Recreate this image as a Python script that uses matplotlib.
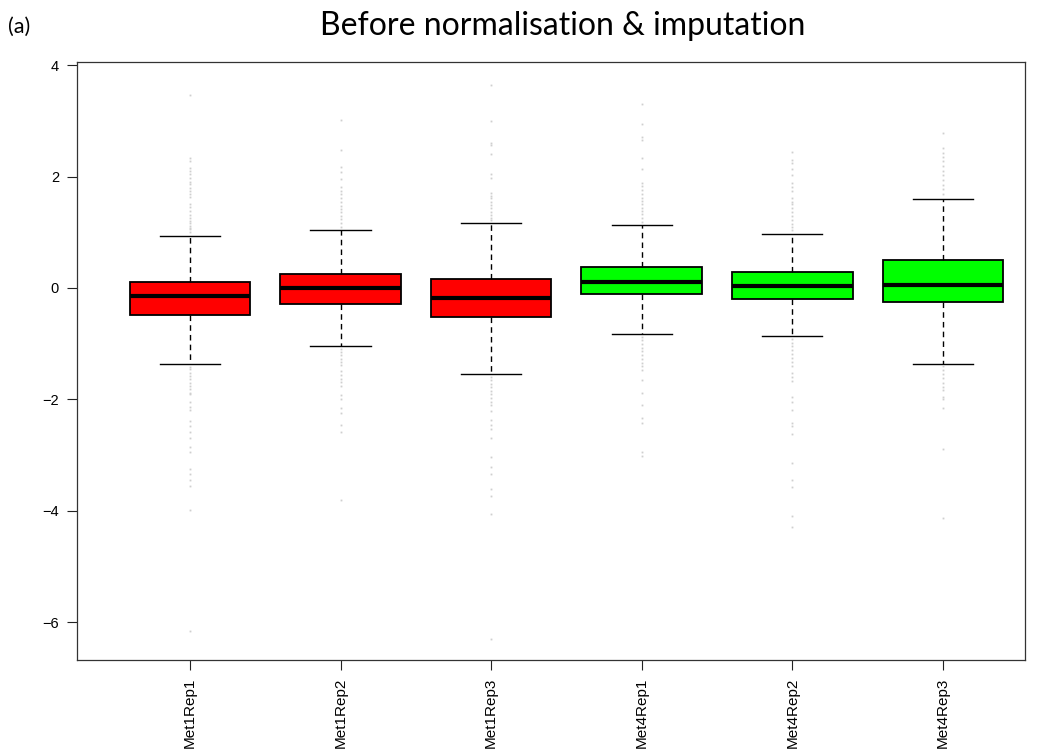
import matplotlib
matplotlib.use("Agg")
import matplotlib.pyplot as plt

# Sample names and summary statistics (log-intensity, before normalisation)
samples = ["Met1Rep1", "Met1Rep2", "Met1Rep3", "Met4Rep1", "Met4Rep2", "Met4Rep3"]
box_colors = ["#FF0000", "#FF0000", "#FF0000", "#00FF00", "#00FF00", "#00FF00"]

medians = [-0.14, 0.00, -0.18, 0.11, 0.04, 0.05]
q1 = [-0.48, -0.28, -0.52, -0.10, -0.19, -0.25]
q3 = [0.11, 0.25, 0.16, 0.38, 0.28, 0.50]
whisker_low = [-1.36, -1.05, -1.54, -0.82, -0.86, -1.37]
whisker_high = [0.93, 1.04, 1.17, 1.13, 0.97, 1.60]

outliers_met1rep1 = [3.47, 2.33, 2.28, 2.16, 2.10, 2.05, 1.98, 1.91, 1.87, 1.80, 1.74,
                     1.69, 1.64, 1.50, 1.45, 1.38, 1.31, 1.25, 1.21, 1.16, 1.12, 1.08,
                     1.05, 1.00,
                     -1.42, -1.46, -1.52, -1.58, -1.63, -1.70, -1.76, -1.82, -1.88,
                     -1.91, -2.05, -2.13, -2.19, -2.39, -2.48, -2.58, -2.69, -2.85,
                     -2.95, -3.25, -3.35, -3.45, -3.56, -3.98, -6.17]
outliers_met1rep2 = [3.02, 2.48, 2.18, 2.08, 1.95, 1.81, 1.75, 1.68, 1.62, 1.55, 1.48,
                     1.42, 1.36, 1.30, 1.24, 1.17, 1.10,
                     -1.10, -1.15, -1.21, -1.27, -1.33, -1.39, -1.50, -1.57, -1.64,
                     -1.69, -1.76, -1.93, -1.99, -2.15, -2.25, -2.47, -2.59, -3.80]
outliers_met1rep3 = [3.65, 2.99, 2.60, 2.57, 2.40, 2.04, 1.97, 1.71, 1.65, 1.61, 1.55,
                     1.49, 1.43, 1.37, 1.31, 1.26, 1.22,
                     -1.60, -1.66, -1.72, -1.78, -1.85, -1.91, -1.98, -2.05, -2.11,
                     -2.21, -2.37, -2.47, -2.54, -2.70, -3.03, -3.22, -3.34, -3.61,
                     -3.74, -4.06, -6.30]
outliers_met4rep1 = [3.30, 2.95, 2.72, 2.65, 2.33, 2.14, 1.89, 1.83, 1.76, 1.69, 1.62,
                     1.56, 1.50, 1.44, 1.38, 1.32, 1.26, 1.18,
                     -0.88, -0.94, -1.00, -1.07, -1.13, -1.20, -1.27, -1.34, -1.40,
                     -1.47, -1.66, -1.89, -2.11, -2.34, -2.43, -2.95, -3.02]
outliers_met4rep2 = [2.45, 2.30, 2.24, 2.14, 2.03, 1.89, 1.82, 1.75, 1.61, 1.55, 1.50,
                     1.43, 1.36, 1.29, 1.22, 1.15, 1.09, 1.04,
                     -0.92, -0.98, -1.05, -1.12, -1.19, -1.26, -1.33, -1.40, -1.52,
                     -1.60, -1.68, -1.95, -2.05, -2.20, -2.42, -2.48, -2.62, -3.15,
                     -3.45, -3.58, -4.10, -4.30]
outliers_met4rep3 = [2.78, 2.52, 2.43, 2.36, 2.28, 2.19, 2.10, 2.03, 1.93, 1.85, 1.77,
                     1.68,
                     -1.41, -1.48, -1.55, -1.62, -1.70, -1.77, -1.83, -1.96, -1.99,
                     -2.15, -2.89, -4.13]
outliers = [outliers_met1rep1, outliers_met1rep2, outliers_met1rep3,
            outliers_met4rep1, outliers_met4rep2, outliers_met4rep3]

y_ticks = [-6, -4, -2, 0, 2, 4]

plt.rcParams["font.family"] = ["Liberation Sans", "DejaVu Sans"]

fig = plt.figure(figsize=(10.41, 7.55), dpi=100)
ax = fig.add_axes([0.074, 0.126, 0.9106, 0.792])

stats = []
for i, name in enumerate(samples):
    stats.append({
        "label": name,
        "med": medians[i],
        "q1": q1[i],
        "q3": q3[i],
        "whislo": whisker_low[i],
        "whishi": whisker_high[i],
        "fliers": outliers[i],
    })

positions = list(range(1, len(samples) + 1))
bp = ax.bxp(
    stats,
    positions=positions,
    widths=0.8,
    patch_artist=True,
    showfliers=True,
    boxprops=dict(edgecolor="black", linewidth=1.3),
    medianprops=dict(color="black", linewidth=3.0, solid_capstyle="butt"),
    whiskerprops=dict(color="black", linewidth=1.0, linestyle=(0, (4, 3))),
    capprops=dict(color="black", linewidth=1.0),
    capwidths=0.4,
    flierprops=dict(marker="s", markersize=1.3, markerfacecolor="#cfcfcf",
                    markeredgecolor="none", linestyle="none"),
)
for patch, c in zip(bp["boxes"], box_colors):
    patch.set_facecolor(c)

ax.set_xlim(0.25, 6.545)
ax.set_ylim(-6.68, 4.06)
ax.set_yticks(y_ticks)
ax.set_yticklabels([str(v).replace("-", "\u2212") for v in y_ticks], fontsize=10.5)
ax.set_xticks(positions)
ax.set_xticklabels(samples, rotation=90, fontsize=11)
ax.tick_params(axis="both", direction="out", length=7, width=0.8, color="#222222",
               pad=6)
for sp in ax.spines.values():
    sp.set_linewidth(0.9)
    sp.set_color("#333333")

fig.text(0.541, 0.965, "Before normalisation & imputation", ha="center", va="center",
         fontsize=23, family=["Lato", "DejaVu Sans"])
fig.text(0.008, 0.965, "(a)", ha="left", va="center", fontsize=15.5,
         family=["Lato", "DejaVu Sans"])

fig.savefig("out.png", dpi=100)
